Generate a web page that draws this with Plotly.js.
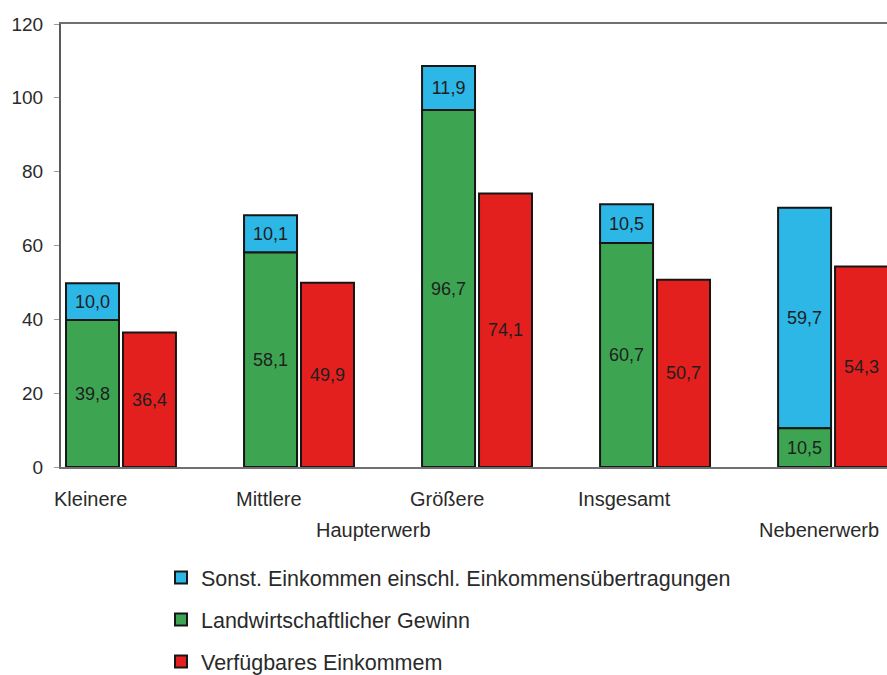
<!DOCTYPE html>
<html>
<head>
<meta charset="utf-8">
<script src="https://cdn.plot.ly/plotly-3.0.1.min.js"></script>
<style>html,body{margin:0;padding:0;background:#fff;}#chart{width:887px;height:675px;}</style>
</head>
<body>
<div id="chart"></div>
<script>
// ---- data ----
var categories = ['Kleinere', 'Mittlere', 'Größere', 'Insgesamt', 'Nebenerwerb'];
var subLabels = ['Kleinere', 'Mittlere', 'Größere', 'Insgesamt', ''];
var groupLabels = ['Haupterwerb', 'Nebenerwerb'];
var landwirtschaftlicherGewinn = [39.8, 58.1, 96.7, 60.7, 10.5];
var sonstEinkommen = [10.0, 10.1, 11.9, 10.5, 59.7];
var verfuegbaresEinkommen = [36.4, 49.9, 74.1, 50.7, 54.3];
var seriesNames = ['Sonst. Einkommen einschl. Einkommensübertragungen', 'Landwirtschaftlicher Gewinn', 'Verfügbares Einkommem'];
var yTicks = [0, 20, 40, 60, 80, 100, 120];

var FONT = 'Liberation Sans, Arial, sans-serif';
var cBlue = '#2cb7e6', cGreen = '#3da552', cRed = '#e4201e';
var outline = {color: '#161616', width: 2};
var txtFont = {family: FONT, size: 18, color: '#1e1e1e'};

var common = {
  type: 'bar', x: categories, textposition: 'inside', insidetextanchor: 'middle',
  texttemplate: '%{y:.1f}', textfont: txtFont, textangle: 0, constraintext: 'none',
  hoverinfo: 'skip'
};

var traces = [
  Object.assign({}, common, {
    name: seriesNames[0], y: sonstEinkommen, base: landwirtschaftlicherGewinn,
    offsetgroup: 'a', legendgroup: 'g1',
    marker: {color: cBlue, line: outline}
  }),
  Object.assign({}, common, {
    name: seriesNames[1], y: landwirtschaftlicherGewinn,
    offsetgroup: 'a', legendgroup: 'g2',
    marker: {color: cGreen, line: outline}
  }),
  Object.assign({}, common, {
    name: seriesNames[2], y: verfuegbaresEinkommen,
    offsetgroup: 'b', legendgroup: 'g3',
    marker: {color: cRed, line: outline}
  })
];

var labelFont = {family: FONT, size: 20, color: '#2a2a2a'};
var annotations = [];
subLabels.forEach(function (s, i) {
  if (!s) return;
  annotations.push({
    text: s, x: i - 0.17, xref: 'x', y: 0, yref: 'y', yanchor: 'middle',
    yshift: -32, showarrow: false, font: labelFont
  });
});
annotations.push({
  text: groupLabels[0], x: 1.42, xref: 'x', y: 0, yref: 'y', yanchor: 'middle',
  yshift: -63, showarrow: false, font: labelFont
});
annotations.push({
  text: groupLabels[1], x: 3.92, xref: 'x', y: 0, yref: 'y', yanchor: 'middle',
  yshift: -63, showarrow: false, font: labelFont
});

var layout = {
  width: 887, height: 675,
  margin: {l: 61, r: 0, t: 24, b: 208, pad: 0, autoexpand: false},
  paper_bgcolor: '#ffffff', plot_bgcolor: '#ffffff',
  separators: ',.',
  barmode: 'group', bargap: 0.36, bargroupgap: 0.07,
  font: {family: FONT, color: '#2a2a2a'},
  showlegend: true,
  legend: {
    x: (161 - 61) / 826, y: -(557 - 467) / 443,
    xanchor: 'left', yanchor: 'top', orientation: 'v',
    traceorder: 'grouped', tracegroupgap: 11,
    font: {family: FONT, size: 21.5, color: '#2a2a2a'},
    bgcolor: 'rgba(0,0,0,0)', itemclick: false
  },
  xaxis: {
    type: 'category', range: [-0.337, 4.303], automargin: false,
    showticklabels: false, ticks: '', showgrid: false, zeroline: false,
    showline: true, mirror: true, linecolor: '#707070', linewidth: 2,
    fixedrange: true
  },
  yaxis: {
    range: [0, 120], tickvals: yTicks, ticktext: yTicks.map(String), automargin: false,
    ticks: 'outside', ticklen: 5, tickcolor: '#9a9a9a', ticklabelstandoff: 7,
    tickfont: {family: FONT, size: 19, color: '#2a2a2a'},
    showgrid: false, zeroline: false,
    showline: true, linecolor: '#5a5a5a', linewidth: 2, fixedrange: true
  },
  annotations: annotations
};

Plotly.newPlot('chart', traces, layout, {staticPlot: true, displayModeBar: false});
</script>
</body>
</html>
